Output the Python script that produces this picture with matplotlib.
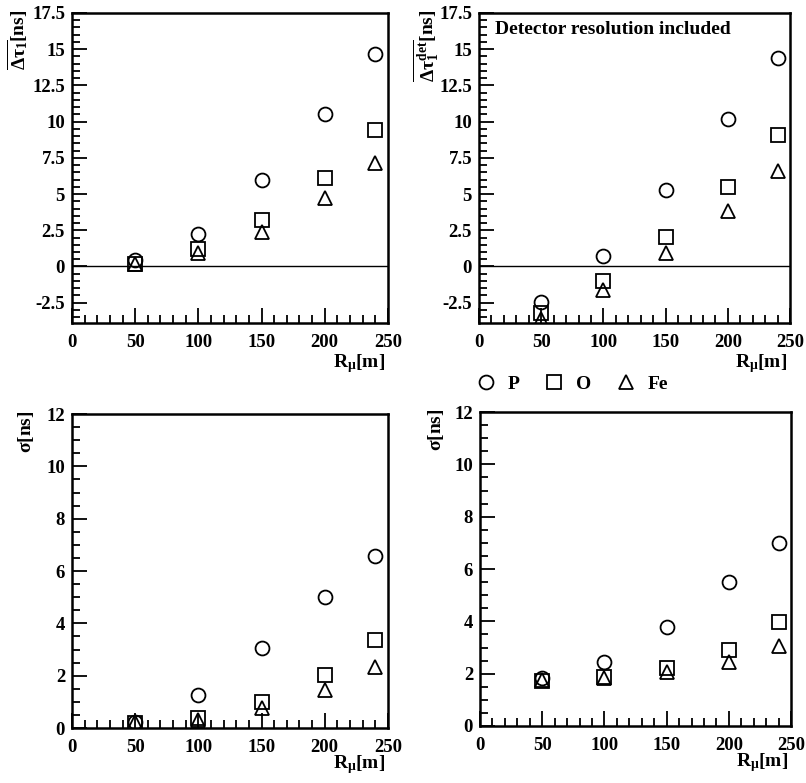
import matplotlib

matplotlib.use("Agg")
import matplotlib.pyplot as plt
from matplotlib.lines import Line2D
from matplotlib.ticker import MultipleLocator

plt.rcParams["font.family"] = ["Liberation Serif", "DejaVu Serif"]
plt.rcParams["font.weight"] = "bold"
plt.rcParams["mathtext.fontset"] = "custom"
plt.rcParams["mathtext.rm"] = "Liberation Serif:bold"
plt.rcParams["mathtext.it"] = "Liberation Serif:bold"
plt.rcParams["mathtext.bf"] = "Liberation Serif:bold"

r_mu = [50, 100, 150, 200, 240]

# mean time delay, no detector resolution
dtau_p = [0.45, 2.25, 5.95, 10.5, 14.65]
dtau_o = [0.2, 1.2, 3.2, 6.1, 9.45]
dtau_fe = [0.15, 0.95, 2.4, 4.7, 7.15]

# mean time delay, detector resolution included
dtau_det_p = [-2.45, 0.75, 5.3, 10.2, 14.4]
dtau_det_o = [-3.2, -1.0, 2.05, 5.5, 9.1]
dtau_det_fe = [-3.65, -1.6, 0.95, 3.85, 6.6]

# spread
sigma_p = [0.22, 1.25, 3.05, 5.02, 6.58]
sigma_o = [0.18, 0.4, 1.0, 2.04, 3.36]
sigma_fe = [0.22, 0.3, 0.75, 1.45, 2.35]

sigma_det_p = [1.83, 2.43, 3.78, 5.5, 6.98]
sigma_det_o = [1.73, 1.87, 2.2, 2.92, 3.98]
sigma_det_fe = [1.75, 1.85, 2.05, 2.45, 3.05]

species = ["P", "O", "Fe"]
markers = ["o", "s", "^"]

fig = plt.figure(figsize=(8.06, 7.83), dpi=100)

positions = [
    [0.0893, 0.5875, 0.392, 0.396],
    [0.5943, 0.5875, 0.386, 0.396],
    [0.0893, 0.0702, 0.392, 0.401],
    [0.5955, 0.0728, 0.386, 0.401],
]
panels = [
    (dtau_p, dtau_o, dtau_fe),
    (dtau_det_p, dtau_det_o, dtau_det_fe),
    (sigma_p, sigma_o, sigma_fe),
    (sigma_det_p, sigma_det_o, sigma_det_fe),
]
ylabels = [
    r"$\overline{\Delta\tau_1}$[ns]",
    r"$\overline{\Delta\tau_1^{det}}$[ns]",
    r"$\sigma$[ns]",
    r"$\sigma$[ns]",
]
ylabel_x = [-0.17, -0.167, -0.146, -0.14]
xlabel_y = [-0.13, -0.13, -0.115, -0.115]

for i, (pos, series, ylab) in enumerate(zip(positions, panels, ylabels)):
    ax = fig.add_axes(pos)
    for vals, m in zip(series, markers):
        ax.plot(r_mu, vals, linestyle="none", marker=m, markersize=10,
                markerfacecolor="none", markeredgecolor="black",
                markeredgewidth=1.3, clip_on=True)
    ax.set_xlim(0, 250)
    ax.xaxis.set_major_locator(MultipleLocator(50))
    ax.xaxis.set_minor_locator(MultipleLocator(10))
    if i < 2:
        ax.set_ylim(-3.9, 17.5)
        ax.yaxis.set_minor_locator(MultipleLocator(0.5))
        ax.set_yticks([-2.5, 0, 2.5, 5, 7.5, 10, 12.5, 15, 17.5])
        ax.set_yticklabels(["-2.5", "0", "2.5", "5", "7.5", "10", "12.5", "15", "17.5"])
        ax.axhline(0, color="black", linewidth=1.0, zorder=0)
    else:
        ax.set_ylim(0, 12)
        ax.yaxis.set_major_locator(MultipleLocator(2))
        ax.yaxis.set_minor_locator(MultipleLocator(0.5))
    for s in ax.spines.values():
        s.set_linewidth(1.8)
    ax.tick_params(which="both", direction="in", top=False, right=False,
                   labelsize=13.5, width=1.3)
    ax.tick_params(which="major", length=11, pad=5)
    ax.tick_params(axis="x", which="major", pad=8)
    ax.tick_params(which="minor", length=6)
    ax.text(ylabel_x[i], 1.01, ylab, transform=ax.transAxes, rotation=90,
            ha="center", va="top", fontsize=14)
    ax.text(0.99, xlabel_y[i], r"R$_\mu$[m]", transform=ax.transAxes,
            ha="right", va="center", fontsize=14)
    if i == 1:
        ax.text(0.05, 0.945, "Detector resolution included",
                transform=ax.transAxes, ha="left", va="center", fontsize=14,
                fontweight="bold")

handles = [Line2D([], [], linestyle="none", marker=m, markersize=10,
                  markerfacecolor="none", markeredgecolor="black",
                  markeredgewidth=1.3) for m in markers]
fig.legend(handles, species, loc="center", bbox_to_anchor=(0.71, 0.509),
           ncol=3, frameon=False, fontsize=14, handletextpad=0.6,
           columnspacing=1.3, handlelength=1.0)

fig.savefig("out.png", dpi=100)
